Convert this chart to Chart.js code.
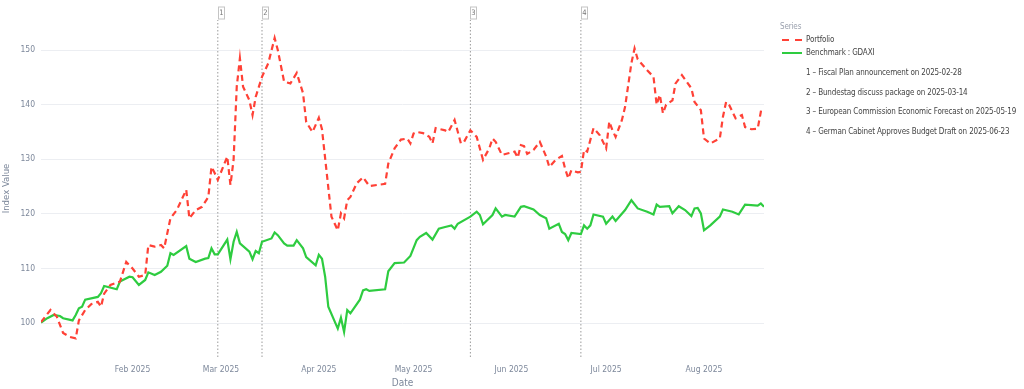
<!DOCTYPE html>
<html>
<head>
<meta charset="utf-8">
<script src="https://cdn.jsdelivr.net/npm/chart.js@4.4.0/dist/chart.umd.min.js"></script>
<style>
  body { margin: 0; background: #fff; }
  #wrap { position: relative; width: 1024px; height: 389px; font-family: "DejaVu Sans Condensed", sans-serif; }
  #legend { position: absolute; left: 0; top: 0; }
  .lg { position: absolute; font-size: 8px; letter-spacing: -0.15px; color: #444; white-space: nowrap; line-height: 10px; }
  .lgt { color: #9aa0ad; }
  .sw { position: absolute; width: 20px; height: 2px; }
</style>
</head>
<body>
<div id="wrap">
  <canvas id="chart" width="1024" height="389"></canvas>
  <div id="legend"></div>
</div>
<script>
// day numbers: days since 2025-01-01
const portfolioDays = [2, 5, 7, 9, 11, 13, 14, 16, 18, 20, 21, 22, 24, 27, 29, 31, 33, 35, 36, 38, 40, 41, 43, 45, 48, 49, 51, 53, 55, 56, 57, 58, 61, 62, 63, 64, 65, 66, 68, 69, 70, 72, 74, 76, 77, 79, 81, 83, 85, 86, 88, 90, 91, 94, 96, 97, 98, 99, 100, 102, 104, 106, 111, 112, 114, 116, 118, 119, 120, 121, 123, 125, 126, 127, 130, 131, 133, 135, 136, 138, 140, 142, 144, 145, 146, 148, 150, 152, 153, 154, 155, 156, 158, 160, 162, 163, 165, 167, 168, 169, 170, 172, 173, 174, 175, 177, 179, 181, 182, 183, 184, 186, 187, 189, 190, 191, 194, 196, 197, 198, 199, 200, 202, 203, 205, 208, 209, 211, 212, 214, 217, 218, 219, 220, 222, 224, 225, 227, 229, 230, 231];
const portfolioValues = [100.2, 102.4, 101.2, 98.2, 97.5, 97.2, 100.5, 102.4, 103.5, 103.9, 103.0, 105.4, 107.0, 107.6, 111.2, 110.0, 108.5, 108.8, 114.3, 114.0, 114.3, 113.7, 119.2, 120.7, 124.4, 119.2, 120.7, 121.3, 123.1, 128.6, 127.5, 126.2, 130.5, 125.3, 129.9, 143.3, 148.5, 143.3, 140.8, 138.1, 141.4, 145.1, 147.6, 152.2, 150.0, 144.2, 143.9, 145.8, 142.1, 136.8, 135.0, 137.6, 135.5, 119.5, 117.0, 120.1, 119.2, 122.5, 123.1, 125.6, 126.7, 125.1, 125.5, 129.2, 132.0, 133.6, 133.8, 132.9, 134.7, 135.0, 134.8, 134.1, 132.9, 135.7, 135.3, 135.0, 137.2, 132.9, 133.2, 135.3, 134.1, 129.9, 132.0, 133.8, 133.2, 130.8, 131.1, 131.4, 130.3, 132.6, 132.4, 131.0, 131.7, 133.2, 130.5, 128.6, 129.9, 130.6, 128.3, 126.5, 128.0, 127.6, 127.7, 131.7, 131.4, 135.7, 134.4, 132.0, 136.9, 135.3, 134.1, 137.2, 139.6, 147.6, 150.3, 148.3, 146.3, 145.1, 140.0, 141.8, 138.4, 140.0, 140.8, 143.9, 145.4, 143.0, 140.5, 139.0, 133.8, 132.9, 133.8, 137.8, 140.5, 139.9, 137.5, 138.1, 135.9, 135.5, 135.6, 138.7, 138.6];

const benchmarkDays = [2, 4, 6, 8, 9, 12, 13, 14, 15, 16, 20, 21, 22, 26, 27, 30, 31, 33, 35, 36, 38, 40, 42, 43, 44, 48, 49, 51, 54, 55, 56, 57, 58, 61, 62, 63, 64, 65, 68, 69, 70, 71, 72, 75, 76, 77, 79, 80, 82, 83, 85, 86, 89, 90, 91, 92, 93, 96, 97, 98, 99, 100, 103, 104, 105, 106, 111, 112, 114, 117, 119, 121, 122, 124, 126, 128, 130, 132, 133, 134, 138, 140, 141, 142, 145, 146, 148, 149, 152, 154, 155, 158, 160, 162, 163, 166, 167, 168, 169, 170, 173, 174, 175, 176, 177, 180, 181, 183, 184, 187, 189, 191, 194, 196, 197, 198, 201, 202, 204, 206, 208, 209, 210, 211, 212, 214, 217, 218, 221, 223, 225, 229, 230, 231];
const benchmarkValues = [100.1, 100.9, 101.5, 101.3, 100.9, 100.5, 101.5, 102.7, 103.0, 104.3, 104.8, 105.5, 106.8, 106.2, 107.6, 108.5, 108.4, 107.0, 107.9, 109.3, 108.8, 109.4, 110.5, 112.8, 112.5, 114.1, 111.8, 111.2, 111.8, 111.9, 113.7, 112.6, 112.6, 115.3, 111.7, 114.9, 116.7, 114.6, 113.1, 111.7, 113.2, 112.8, 114.9, 115.5, 116.6, 116.1, 114.6, 114.2, 114.2, 115.2, 113.7, 112.1, 110.6, 112.5, 111.8, 108.5, 103.0, 99.0, 101.0, 98.4, 102.4, 101.8, 104.3, 106.0, 106.2, 105.9, 106.2, 109.5, 111.0, 111.1, 112.3, 115.2, 115.8, 116.5, 115.3, 117.3, 117.6, 117.9, 117.3, 118.2, 119.5, 120.4, 119.8, 118.1, 119.8, 121.0, 119.5, 119.8, 119.5, 121.3, 121.4, 120.8, 119.8, 119.2, 117.3, 118.2, 116.7, 116.3, 115.2, 116.5, 116.3, 117.9, 117.3, 117.9, 119.9, 119.5, 118.2, 119.5, 118.7, 120.7, 122.5, 121.0, 120.4, 119.9, 121.7, 121.3, 121.4, 120.1, 121.4, 120.7, 119.6, 121.0, 121.1, 120.1, 117.0, 117.9, 119.5, 120.8, 120.4, 119.9, 121.7, 121.5, 121.9, 121.3];

const eventDays = [58, 72, 138, 173];
const eventNumbers = ["1", "2", "3", "4"];
const eventLabels = [
  "1 – Fiscal Plan announcement on 2025-02-28",
  "2 – Bundestag discuss package on 2025-03-14",
  "3 – European Commission Economic Forecast on 2025-05-19",
  "4 – German Cabinet Approves Budget Draft on 2025-06-23"
];

const monthTickDays = [31, 59, 90, 120, 151, 181, 212];
const monthTickLabels = ["Feb 2025", "Mar 2025", "Apr 2025", "May 2025", "Jun 2025", "Jul 2025", "Aug 2025"];
const yTicks = [100, 110, 120, 130, 140, 150];

const Y_MIN = 93.8, Y_MAX = 155.5;
const RED = "#ff4136", GREEN = "#2ecc40";
const FONT = '"DejaVu Sans Condensed", sans-serif';

const toPoints = (days, vals) => days.map((d, i) => ({ x: d, y: vals[i] }));

const eventSets = eventDays.map((d, i) => ({
  label: eventLabels[i],
  data: [{ x: d, y: Y_MIN }, { x: d, y: Y_MAX }],
  borderColor: "#9a9a9a",
  borderWidth: 1,
  borderDash: [1.5, 2],
  pointRadius: 0
}));

const eventBoxes = {
  id: "eventBoxes",
  afterDatasetsDraw(chart) {
    const ctx = chart.ctx;
    const xs = chart.scales.x;
    ctx.save();
    ctx.font = "7.5px " + FONT;
    ctx.textAlign = "center";
    ctx.textBaseline = "middle";
    eventDays.forEach((d, i) => {
      const px = Math.round(xs.getPixelForValue(d)) + 0.5;
      ctx.fillStyle = "#fff";
      ctx.fillRect(px, 7, 6, 12);
      ctx.strokeStyle = "#c4c4c4";
      ctx.lineWidth = 1;
      ctx.strokeRect(px, 7, 6, 12);
      ctx.fillStyle = "#777";
      ctx.fillText(eventNumbers[i], px + 3, 13.5);
    });
    ctx.restore();
  }
};

new Chart(document.getElementById("chart"), {
  type: "line",
  data: {
    datasets: [
      {
        label: "Portfolio",
        data: toPoints(portfolioDays, portfolioValues),
        borderColor: RED,
        borderWidth: 2.2,
        borderDash: [6, 4],
        pointRadius: 0,
        tension: 0
      },
      {
        label: "Benchmark : GDAXI",
        data: toPoints(benchmarkDays, benchmarkValues),
        borderColor: GREEN,
        borderWidth: 2.2,
        pointRadius: 0,
        tension: 0
      },
      ...eventSets
    ]
  },
  options: {
    responsive: false,
    animation: false,
    layout: { padding: { left: 0, right: 260, top: 20, bottom: 0 } },
    plugins: { legend: { display: false }, tooltip: { enabled: false } },
    scales: {
      x: {
        type: "linear",
        min: 2,
        max: 231,
        grid: { display: false },
        border: { display: false },
        afterFit: s => { s.height = 32; },
        afterBuildTicks: s => { s.ticks = monthTickDays.map(v => ({ value: v })); },
        ticks: {
          autoSkip: false,
          maxRotation: 0,
          padding: 0,
          color: "#7d889b",
          font: { family: FONT, size: 8.5 },
          callback: v => monthTickLabels[monthTickDays.indexOf(v)]
        },
        title: { display: true, text: "Date", color: "#7d889b", font: { family: FONT, size: 10 }, padding: { top: 0, bottom: 0 } }
      },
      y: {
        min: Y_MIN,
        max: Y_MAX,
        grid: { color: "#eceef2", drawTicks: false },
        border: { display: false },
        afterFit: s => { s.width = 41; },
        afterBuildTicks: s => { s.ticks = yTicks.map(v => ({ value: v })); },
        ticks: { padding: 6, color: "#7d889b", font: { family: FONT, size: 8.5 } },
        title: { display: true, text: "Index Value", color: "#7d889b", font: { family: FONT, size: 9.5 }, padding: { top: 1, bottom: 0 } }
      }
    }
  },
  plugins: [eventBoxes]
});

// legend
const lg = document.getElementById("legend");
function addText(txt, x, y, cls) {
  const el = document.createElement("div");
  el.className = "lg" + (cls ? " " + cls : "");
  el.textContent = txt;
  el.style.left = x + "px";
  el.style.top = (y - 5) + "px";
  lg.appendChild(el);
}
function addSwatch(y, color, dashed) {
  const el = document.createElement("div");
  el.className = "sw";
  el.style.left = "782px";
  el.style.top = (y - 1) + "px";
  el.style.background = dashed
    ? "linear-gradient(90deg, " + color + " 0 7px, transparent 7px 13px, " + color + " 13px 20px)"
    : color;
  lg.appendChild(el);
}
addText("Series", 780, 27, "lgt");
addSwatch(40, RED, true);
addText("Portfolio", 806, 40);
addSwatch(53, GREEN, false);
addText("Benchmark : GDAXI", 806, 53);
const eventRowY = [73, 93, 112, 132];
eventLabels.forEach((t, i) => addText(t, 806, eventRowY[i]));
</script>
</body>
</html>
